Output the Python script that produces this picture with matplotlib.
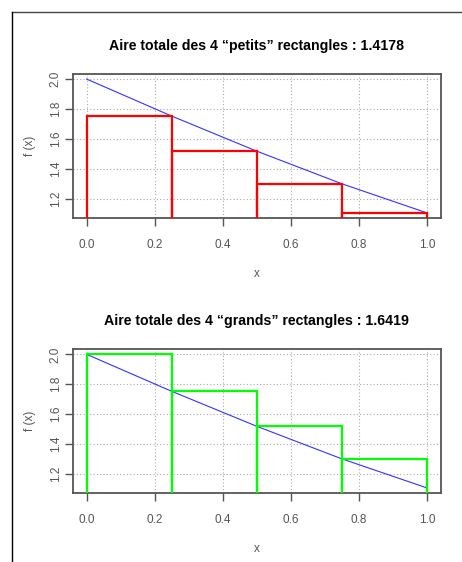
import matplotlib
matplotlib.use("Agg")
import matplotlib.pyplot as plt
from matplotlib.patches import Rectangle
from matplotlib.lines import Line2D

plt.rcParams['font.family'] = ['Liberation Sans', 'DejaVu Sans']

x_pts = [0.0, 0.25, 0.5, 0.75, 1.0]
f_vals = [2.0, 1.752, 1.517, 1.2986, 1.1036]
left_edges = [0.0, 0.25, 0.5, 0.75]
width = 0.25
small_heights = [1.752, 1.517, 1.2986, 1.1036]
large_heights = [2.0, 1.752, 1.517, 1.2986]
titles = ["Aire totale des 4 \u201cpetits\u201d rectangles : 1.4178",
          "Aire totale des 4 \u201cgrands\u201d rectangles : 1.6419"]
xticks = [0.0, 0.2, 0.4, 0.6, 0.8, 1.0]
yticks = [1.2, 1.4, 1.6, 1.8, 2.0]

W, H = 462, 562
fig = plt.figure(figsize=(W/100, H/100), dpi=100)
fig.patch.set_facecolor('white')

def px(l, t, r, b):
    return [l/W, 1 - b/H, (r-l)/W, (b-t)/H]

boxes = [px(73, 73.7, 440.7, 218.3), px(73, 349, 440.7, 493.3)]
heights_list = [small_heights, large_heights]
colors = ['#FF0000', '#00FF00']

span = max(f_vals) - min(f_vals)
for box, heights, col, title in zip(boxes, heights_list, colors, titles):
    ax = fig.add_axes(box)
    ax.set_xlim(-0.04, 1.04)
    ax.set_ylim(min(f_vals) - 0.04*span, max(f_vals) + 0.04*span)
    ax.set_xticks(xticks)
    ax.set_xticklabels([f"{v:.1f}" for v in xticks])
    ax.set_yticks(yticks)
    ax.set_yticklabels([f"{v:.1f}" for v in yticks], rotation=90, va='center')
    ax.grid(True, color='#aaaaaa', linestyle=(0, (1, 2)), linewidth=0.8)
    ax.set_axisbelow(True)
    ax.plot(x_pts, f_vals, color='#3333FF', linewidth=0.8, zorder=3)
    for le, h in zip(left_edges, heights):
        ax.add_patch(Rectangle((le, 0), width, h, fill=False, edgecolor=col,
                               linewidth=1.6, zorder=4))
    for s in ax.spines.values():
        s.set_color('#555555')
        s.set_linewidth(1.3)
    ax.tick_params(colors='#555555', labelcolor='#555555', labelsize=8.5,
                   length=6, width=1.0)
    ax.tick_params(axis='x', pad=9)
    ax.tick_params(axis='y', pad=2)
    ax.set_xlabel('x', fontsize=8.5, color='#555555', labelpad=12)
    ax.set_ylabel('f (x)', fontsize=8.5, color='#555555', labelpad=10)
    ax.set_title(title, fontsize=10.2, fontweight='bold', pad=17)

fig.add_artist(Line2D([12/W, 1], [1 - 12/H, 1 - 12/H], color='#444444', linewidth=1.0))
fig.add_artist(Line2D([12/W, 12/W], [1 - 12/H, 0], color='#000000', linewidth=1.0))

fig.savefig('out.png', dpi=100, facecolor='white')
